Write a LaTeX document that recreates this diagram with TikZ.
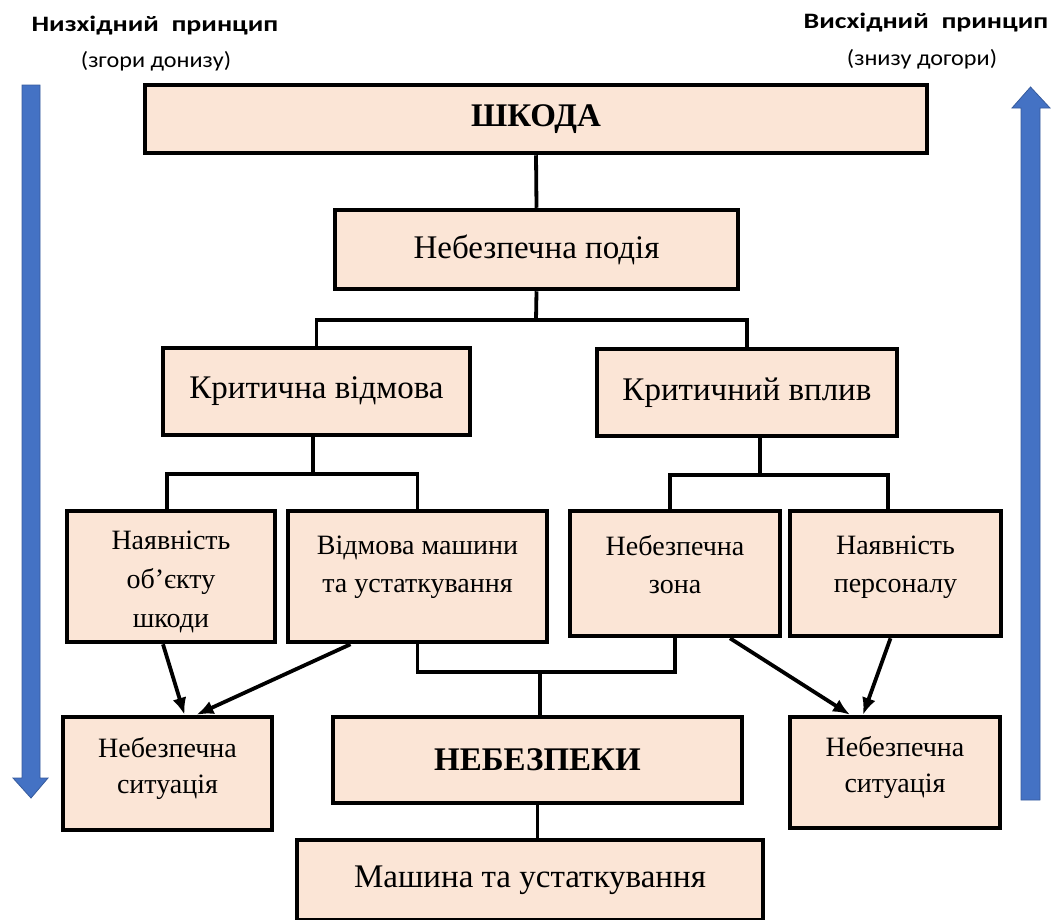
\documentclass[tikz,border=0pt]{standalone}
\usepackage{fontspec}
\usepackage{graphicx}
\setmainfont{Liberation Serif}
\newfontfamily\titlefont{Carlito}
\usetikzlibrary{arrows.meta}
\definecolor{peach}{HTML}{FBE5D6}
\definecolor{myblue}{HTML}{4472C4}
\newcommand{\dpfix}[1]{\rule[-#1]{0pt}{#1}}
\tikzset{
  box/.style={draw=black, line width=4.5pt, fill=peach, inner sep=0pt, align=center, font=\fontsize{33}{38}\selectfont},
  smallbox/.style={box, font=\fontsize{28}{38}\selectfont},
  conn/.style={draw=black, line width=3.8pt},
  arr/.style={conn, -{Latex[length=17pt,width=14pt]}},
  bluearrow/.style={fill=myblue, draw=myblue!80!black, line width=0.8pt},
  ttl/.style={font=\titlefont\fontsize{22}{24}\selectfont\bfseries, inner sep=0pt},
  sub/.style={font=\titlefont\fontsize{22}{24}\selectfont, inner sep=0pt}
}
\begin{document}
\begin{tikzpicture}[x=1pt,y=-1pt]
\useasboundingbox (0,0) rectangle (1051,919);
% titles
\node[ttl] (t1) at (155,26) {\scalebox{1.27}[1]{Низхідний\ \ принцип}};
\node[sub] (s1) at (156,61) {\scalebox{1.1}[1]{(згори донизу)}};
\node[ttl] (t2) at (926,23) {\scalebox{1.27}[1]{Висхідний\ \ принцип}};
\node[sub] (s2) at (922,59) {\scalebox{1.1}[1]{(знизу догори)}};
% blue arrows
\path[bluearrow] (22,85) -- (40,85) -- (40,778) -- (48,778) -- (31,798) -- (13,778) -- (22,778) -- cycle;
\path[bluearrow] (1021,800) -- (1040,800) -- (1040,108) -- (1050,108) -- (1030.5,87) -- (1012,108) -- (1021,108) -- cycle;
% boxes
\node[box, minimum width=782pt, minimum height=68pt, font=\fontsize{33}{38}\selectfont\bfseries] (shkoda) at (536,119) {ШКОДА};
\node[box, minimum width=403pt, minimum height=79pt] (podia) at (536.5,249.5) {Небезпечна подія};
\node[box, minimum width=307pt, minimum height=87pt] (kvid) at (316.5,391.5) {Критична відмова};
\node[box, minimum width=300pt, minimum height=87pt] (kvpl) at (747,392.5) {Критичний вплив};
\node[smallbox, font=\fontsize{28}{39}\selectfont, minimum width=208pt, minimum height=131pt] (naya) at (171,576.5) {\rule{0pt}{30pt}Наявність\\об’єкту\\шкоди};
\node[smallbox, minimum width=259pt, minimum height=131pt] (vidm) at (417.5,576.5) {Відмова машини\\та устаткування\dpfix{24.5pt}};
\node[smallbox, minimum width=210pt, minimum height=125pt] (zona) at (675,573.5) {Небезпечна\\зона\dpfix{18.5pt}};
\node[smallbox, minimum width=211pt, minimum height=125pt] (pers) at (895.5,573.5) {Наявність\\персоналу\dpfix{18.5pt}};
\node[smallbox, font=\fontsize{28}{36}\selectfont, minimum width=209pt, minimum height=113pt] (sitL) at (167.5,773.5) {Небезпечна\\ситуація\dpfix{16.5pt}};
\node[box, minimum width=409pt, minimum height=86pt, font=\fontsize{33}{38}\selectfont\bfseries] (neb) at (537.5,760) {НЕБЕЗПЕКИ};
\node[smallbox, font=\fontsize{28}{36}\selectfont, minimum width=210pt, minimum height=111pt] (sitR) at (895,772.5) {Небезпечна\\ситуація\dpfix{16.5pt}};
\node[box, minimum width=466pt, minimum height=80pt] (mash) at (530,880) {Машина та устаткування};
% tree connectors
\coordinate (j1) at (536,320);
\coordinate (j2) at (313,474);
\coordinate (j3) at (760,475);
\coordinate (j4) at (540,672);
\draw[conn] (shkoda.south) -- (podia.north);
\draw[conn] (podia.south) -- (j1);
\draw[conn] (kvid.north) |- (j1) -| (kvpl.north);
\draw[conn] ([xshift=-3.5pt]kvid.south) -- (j2);
\draw[conn] ([xshift=-4pt]naya.north) |- (j2) -| (vidm.north);
\draw[conn] ([xshift=13pt]kvpl.south) -- (j3);
\draw[conn] ([xshift=-5pt]zona.north) |- (j3) -| ([xshift=-7.5pt]pers.north);
\draw[conn] (vidm.south) |- (j4) -| (zona.south);
\draw[conn] (j4) -- (neb.north -| j4);
\draw[conn] (neb.south) -- (mash.north -| neb.south);
% arrows
\draw[arr] ([xshift=-8pt]naya.south) -- ([xshift=17pt]sitL.north);
\draw[arr] ([xshift=-67pt]vidm.south) -- ([xshift=29pt]sitL.north);
\draw[arr] ([xshift=55pt]zona.south) -- ([xshift=-45pt]sitR.north);
\draw[arr] ([xshift=-5pt]pers.south) -- ([xshift=-32pt]sitR.north);
\end{tikzpicture}
\end{document}
